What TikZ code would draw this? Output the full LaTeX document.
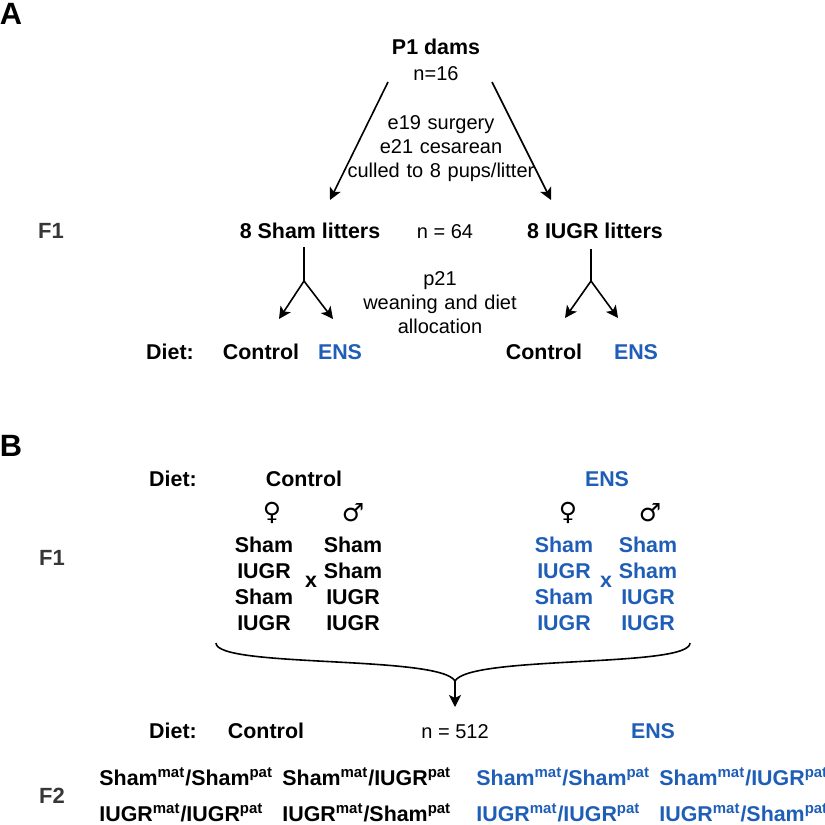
\documentclass[tikz,border=0pt]{standalone}
\usepackage{fontspec}
\setmainfont{Liberation Sans}
\newfontfamily\symfont{DejaVu Sans}
\usepackage{xcolor}
\usepackage{tikz}
\usetikzlibrary{arrows.meta}
\definecolor{ensblue}{RGB}{31,94,183}
\definecolor{gengray}{RGB}{55,55,55}
\newcommand{\matpat}[2]{#1\textsuperscript{mat}/#2\textsuperscript{pat}}

\begin{document}
\begin{tikzpicture}[x=0.5pt, y=-0.5pt,
    every node/.style={inner sep=0pt, font=\fontsize{10.7}{13}\selectfont\bfseries},
    plain/.style={font=\fontsize{10}{12}\selectfont, align=center},
    ens/.style={text=ensblue},
    gen/.style={text=gengray, font=\fontsize{11}{13}\selectfont\bfseries},
    panel/.style={font=\fontsize{15.4}{18}\selectfont\bfseries},
    sym/.style={font=\symfont\fontsize{12.5}{14}\selectfont},
    col/.style={align=center},
    arr/.style={-{Stealth[length=6pt, width=6pt, inset=1.5pt]}, line width=0.8pt}]
   \useasboundingbox (0,0) rectangle (825,825);
   % Panel A: P1 dams to F1 litters
   \node[panel, anchor=base] (pa) at (11,24) {A};
   \node[anchor=base] (dams) at (436,54.5) {P1 dams};
   \node[plain, anchor=base] (n16) at (436,80) {n=16};
   \node[plain, text width=100pt] (surg) at (441,149) {e19 surgery\\e21 cesarean\\culled to 8 pups/litter};
   \coordinate (dl) at (388,82);
   \coordinate (dr) at (492,82);
   \coordinate (tl) at (330,200);
   \coordinate (tr) at (551,200);
   \draw[arr] (dl) -- (tl);
   \draw[arr] (dr) -- (tr);

   \node[gen, anchor=base] (f1a) at (51,238.5) {F1};
   \node[anchor=base] (shl) at (310,238.5) {8 Sham litters};
   \node[plain, anchor=base] (n64) at (445,238) {n = 64};
   \node[anchor=base] (iul) at (595,238.5) {8 IUGR litters};

   % weaning split
   \coordinate (st) at (304,247);
   \coordinate (sb) at (304,281);
   \coordinate (sl) at (279,319);
   \coordinate (sr) at (333,319);
   \coordinate (it) at (591,249);
   \coordinate (ib) at (591,281);
   \coordinate (il) at (565,318);
   \coordinate (ir) at (618,318);
   \draw[line width=0.8pt] (st) -- (sb);
   \draw[arr] (sb) -- (sl);
   \draw[arr] (sb) -- (sr);
   \draw[line width=0.8pt] (it) -- (ib);
   \draw[arr] (ib) -- (il);
   \draw[arr] (ib) -- (ir);
   \node[plain, text width=100pt] (wean) at (440,303) {p21\\weaning and diet\\allocation};

   \node[anchor=base] (dieta) at (170,359.5) {Diet:};
   \node[anchor=base] (ctla) at (261,359.5) {Control};
   \node[ens, anchor=base] (ensa) at (340,359.5) {ENS};
   \node[anchor=base] (ctlb) at (544,359.5) {Control};
   \node[ens, anchor=base] (ensb) at (636,359.5) {ENS};

   % Panel B: F1 crosses
   \node[panel, anchor=base] (pb) at (11,456) {B};
   \node[anchor=base] (dietb) at (173,486.5) {Diet:};
   \node[anchor=base] (ctlc) at (304,486.5) {Control};
   \node[ens, anchor=base] (ensc) at (607,486.5) {ENS};
   \node[gen, anchor=base] (f1b) at (52,565.5) {F1};

   \node[sym] (fem1) at (272,513) {♀};
   \node[sym] (mal1) at (353,513) {♂};
   \node[sym] (fem2) at (568,513) {♀};
   \node[sym] (mal2) at (650,513) {♂};

   \node[col] (fcl) at (264,584) {Sham\\IUGR\\Sham\\IUGR};
   \node[col] (mcl) at (353,584) {Sham\\Sham\\IUGR\\IUGR};
   \node (xl) at (311,582) {x};
   \node[col, ens] (fcr) at (564,584) {Sham\\IUGR\\Sham\\IUGR};
   \node[col, ens] (mcr) at (648,584) {Sham\\Sham\\IUGR\\IUGR};
   \node[ens] (xr) at (606,582) {x};

   % brace and arrow to F2
   \coordinate (bl) at (216,643);
   \coordinate (bc) at (455,681);
   \coordinate (br) at (690,643);
   \coordinate (bt) at (455,707);
   \draw[line width=0.8pt] (bl) .. controls (216,668) and (440,655) .. (bc)
      .. controls (470,655) and (690,668) .. (br);
   \draw[arr] (bc) -- (bt);

   \node[anchor=base] (dietc) at (173,738.5) {Diet:};
   \node[anchor=base] (ctld) at (266,738.5) {Control};
   \node[plain, anchor=base] (n512) at (455,738) {n = 512};
   \node[ens, anchor=base] (ensd) at (653,738.5) {ENS};

   % F2 offspring
   \node[gen, anchor=base] (f2) at (52,803.5) {F2};
   \node[anchor=base west] (ss) at (99,785.5) {\matpat{Sham}{Sham}};
   \node[anchor=base west] (si) at (282,785.5) {\matpat{Sham}{IUGR}};
   \node[ens, anchor=base west] (ssb) at (476,785.5) {\matpat{Sham}{Sham}};
   \node[ens, anchor=base west] (sib) at (659,785.5) {\matpat{Sham}{IUGR}};
   \node[anchor=base west] (ii) at (99,821) {\matpat{IUGR}{IUGR}};
   \node[anchor=base west] (is) at (282,821) {\matpat{IUGR}{Sham}};
   \node[ens, anchor=base west] (iib) at (476,821) {\matpat{IUGR}{IUGR}};
   \node[ens, anchor=base west] (isb) at (659,821) {\matpat{IUGR}{Sham}};
\end{tikzpicture}
\end{document}
